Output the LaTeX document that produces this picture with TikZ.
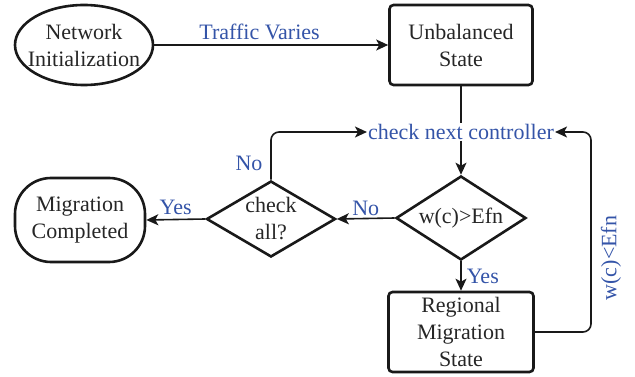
\documentclass[tikz,border=0pt]{standalone}
\usepackage{fontspec}
\setmainfont{Liberation Serif}
\usetikzlibrary{shapes.geometric,arrows.meta}
\definecolor{lblue}{RGB}{52,84,168}
\begin{document}
\begin{tikzpicture}[x=1pt,y=-1pt,
  every node/.style={font=\fontsize{22}{27}\selectfont, text=black!85},
  blk/.style={draw=black!90, line width=2.6pt, align=center, inner sep=0pt},
  boxn/.style={blk, rectangle, rounded corners=4pt, minimum width=143pt, minimum height=80pt},
  dia/.style={blk, diamond, aspect=1.6},
  lbl/.style={text=lblue, inner sep=1pt},
  conn/.style={draw=black!90, line width=1.6pt, -{Stealth[length=12pt,width=11pt,inset=3pt]}},
  plain/.style={draw=black!90, line width=1.6pt}
]
\useasboundingbox (0,0) rectangle (635,377);
\node[blk, ellipse, minimum width=138pt, minimum height=80pt] (init) at (84,45) {};
\node[align=center, inner sep=0pt] (initt) at (84,45) {Network\\Initialization};
\node[boxn] (unb) at (461,45) {Unbalanced\\State};
\node[lbl] (cnc) at (461,132) {check next controller};
\node[dia, minimum width=130pt, minimum height=84pt] (wc) at (461,218) {w(c)>Efn};
\node[dia, minimum width=129pt, minimum height=76pt] (chk) at (271,219) {check\\all?};
\node[boxn, minimum width=145pt] (reg) at (461,332) {Regional\\Migration\\State};
\node[blk, rectangle, rounded corners=36pt, minimum width=130pt, minimum height=84pt] (mig) at (80,220) {Migration\\Completed};

\draw[conn] (init.east) -- node[lbl, pos=0.45, above=3pt] {Traffic Varies} (unb.west);
\draw[plain] (unb.south) -- (cnc.north);
\draw[conn] (cnc.south) -- (wc.north);
\draw[conn] (wc.south) -- node[lbl, right=4pt] {Yes} (reg.north);
\draw[conn] (wc.west) -- node[lbl, above=1pt] {No} (chk.east);
\draw[conn] (chk.west) -- node[lbl, above=3pt] {Yes} (mig.east);
\draw[conn, rounded corners=8pt] (chk.north) |- (cnc.west);
\node[lbl] (no2) at (249,163) {No};
\coordinate (rc) at (591,332);
\draw[conn, rounded corners=8pt] (reg.east) -- (rc) |- (cnc.east);
\node[lbl, rotate=90] (wlt) at (611,258) {w(c)<Efn};
\end{tikzpicture}
\end{document}
